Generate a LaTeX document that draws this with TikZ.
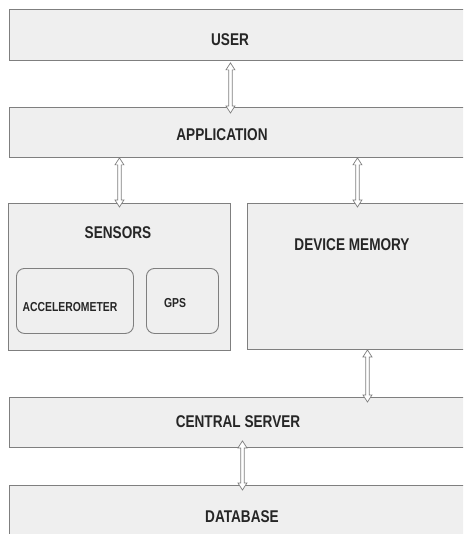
\documentclass[tikz,border=0pt]{standalone}
\usepackage{fontspec}
\setmainfont{Liberation Sans}[FakeStretch=0.8]
\usetikzlibrary{calc}
\definecolor{boxfill}{HTML}{EFEFEF}
\definecolor{boxline}{HTML}{7F7F7F}
\tikzset{
  box/.style={draw=boxline, fill=boxfill, line width=0.9pt, inner sep=0pt, anchor=north west},
  inbox/.style={box, rounded corners=8pt},
  lbl/.style={font=\bfseries\fontsize{17}{19}\selectfont, inner sep=0pt, text=black!85},
  slbl/.style={font=\bfseries\fontsize{13}{15}\selectfont, inner sep=0pt, text=black!85},
  hollowarrow/.style={draw=boxline, fill=white, line width=0.7pt,
    to path={let \p1=(\tikztostart), \p2=(\tikztotarget) in
      (\x1,\y1) -- (\x1+4.5pt,\y1-7pt) -- (\x1+1.8pt,\y1-7pt) -- (\x1+1.8pt,\y2+7pt)
      -- (\x1+4.5pt,\y2+7pt) -- (\x1,\y2) -- (\x1-4.5pt,\y2+7pt) -- (\x1-1.8pt,\y2+7pt)
      -- (\x1-1.8pt,\y1-7pt) -- (\x1-4.5pt,\y1-7pt) -- cycle}}
}
\begin{document}
\begin{tikzpicture}[x=1pt,y=1pt]
\useasboundingbox (0,0) rectangle (463,-534);
\clip (0,0) rectangle (463,-534);
% boxes
\node[box, minimum width=464pt, minimum height=51pt] (user) at (9,-9) {};
\node[box, minimum width=464pt, minimum height=50pt] (app) at (9,-107) {};
\node[box, minimum width=222pt, minimum height=147pt] (sensors) at (8,-203) {};
\node[box, minimum width=220pt, minimum height=146pt] (mem) at (247,-203) {};
\node[inbox, minimum width=117pt, minimum height=65pt] (acc) at (16,-268) {};
\node[inbox, minimum width=72pt, minimum height=65pt] (gps) at (146,-268) {};
\node[box, minimum width=464pt, minimum height=50pt] (server) at (9,-397) {};
\node[box, minimum width=464pt, minimum height=64pt] (db) at (9,-485) {};
% texts
\node[lbl] (usert) at (230,-40) {USER};
\node[lbl] (appt) at (222,-135) {APPLICATION};
\node[lbl] (sent) at (118,-233) {SENSORS};
\node[lbl] (memt) at (352,-245) {DEVICE MEMORY};
\node[slbl] (acct) at (70,-307) {ACCELEROMETER};
\node[slbl] (gpst) at (175,-303) {GPS};
\node[lbl] (servt) at (238,-422) {CENTRAL SERVER};
\node[lbl] (dbt) at (242,-517) {DATABASE};
% connectors
\draw[hollowarrow] ($(user.south)+(-11,-2)$) to ($(app.north)+(-11,-6)$);
\draw[hollowarrow] ($(app.south -| sensors.north)+(0,0)$) to ($(sensors.north)+(0,-4)$);
\draw[hollowarrow] ($(app.south -| mem.north)$) to ($(mem.north)+(0,-4)$);
\draw[hollowarrow] ($(mem.south)+(10,0)$) to ($(server.north)+(126,-5)$);
\draw[hollowarrow] ($(server.south)+(1,7)$) to ($(db.north)+(1,-5)$);
\end{tikzpicture}
\end{document}
